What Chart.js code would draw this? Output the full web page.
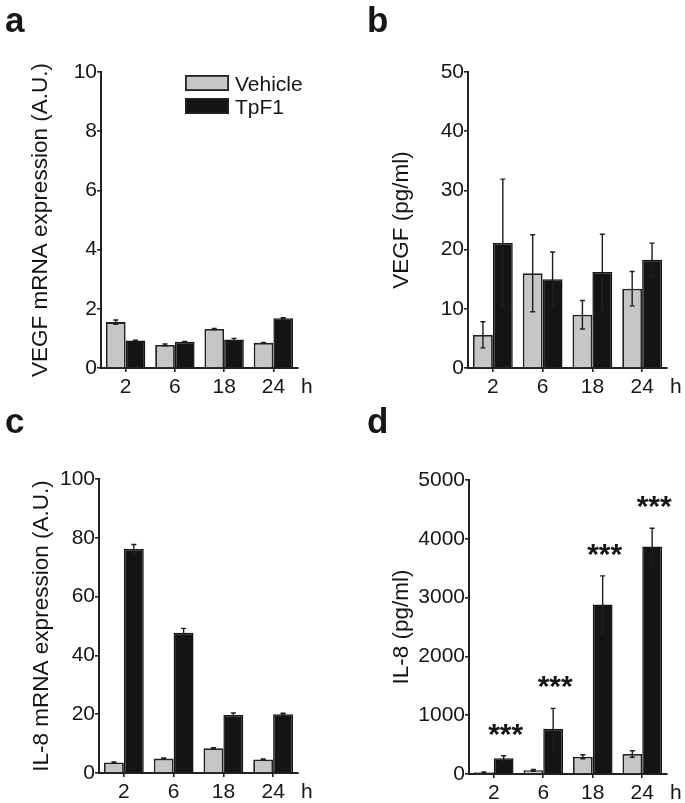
<!DOCTYPE html>
<html>
<head>
<meta charset="utf-8">
<script src="https://cdn.jsdelivr.net/npm/chart.js@4.4.1/dist/chart.umd.min.js"></script>
<style>
  html, body { margin: 0; padding: 0; background: #fff; }
  #wrap { position: relative; width: 685px; height: 803px; }
  canvas { position: absolute; }
</style>
</head>
<body>
<div id="wrap">
  <canvas id="panelA" width="342" height="400" style="left:0;top:0"></canvas>
  <canvas id="panelB" width="343" height="400" style="left:342px;top:0"></canvas>
  <canvas id="panelC" width="342" height="403" style="left:0;top:400px"></canvas>
  <canvas id="panelD" width="343" height="403" style="left:342px;top:400px"></canvas>
</div>
<script>
// time points (h)
const hours = ["2", "6", "18", "24"];
const seriesNames = ["Vehicle", "TpF1"];

// a - VEGF mRNA
const vegfMrnaVehicle = [1.55, 0.78, 1.32, 0.85];
const vegfMrnaVehicleErr = [0.07, 0.03, 0.02, 0.01];
const vegfMrnaTpf1 = [0.93, 0.89, 0.96, 1.68];
const vegfMrnaTpf1Err = [0.01, 0.01, 0.04, 0.02];

// b - VEGF protein (pg/ml)
const vegfVehicle = [5.6, 16.0, 9.0, 13.4];
const vegfVehicleErr = [2.2, 6.5, 2.4, 2.9];
const vegfTpf1 = [21.1, 15.0, 16.2, 18.3];
const vegfTpf1Err = [10.8, 4.6, 6.4, 2.8];

// c - IL-8 mRNA
const il8MrnaVehicle = [3.6, 4.9, 8.4, 4.6];
const il8MrnaVehicleErr = [0.2, 0.2, 0.2, 0.2];
const il8MrnaTpf1 = [76.2, 47.7, 19.7, 20.0];
const il8MrnaTpf1Err = [1.5, 1.5, 0.7, 0.3];

// d - IL-8 protein (pg/ml)
const il8Vehicle = [28, 62, 294, 340];
const il8VehicleErr = [8, 15, 34, 56];
const il8Tpf1 = [266, 770, 2882, 3868];
const il8Tpf1Err = [45, 346, 488, 311];
const il8Stars = ["***", "***", "***", "***"];

// y axis ranges
const yMaxA = 10, yStepA = 2;
const yMaxB = 50, yStepB = 10;
const yMaxC = 100, yStepC = 20;
const yMaxD = 5000, yStepD = 1000;

const FONT = '"Liberation Sans", Arial, Helvetica, sans-serif';
const INK = "#161616";
const GREY = "#c6c6c6";
const BLACK = "#141414";

Chart.defaults.font.family = FONT;
Chart.defaults.color = INK;

// error bars, drawn from the dataset's errors array
const errorBars = {
  id: "errorBars",
  afterDatasetsDraw(chart) {
    const ctx = chart.ctx;
    const y = chart.scales.y;
    ctx.save();
    ctx.strokeStyle = "#1e1e1e";
    ctx.lineWidth = 1.4;
    chart.data.datasets.forEach((ds, i) => {
      const meta = chart.getDatasetMeta(i);
      meta.data.forEach((bar, j) => {
        const v = ds.data[j], e = ds.errors[j];
        const top = y.getPixelForValue(v + e);
        const bot = y.getPixelForValue(Math.max(0, v - e));
        ctx.beginPath();
        ctx.moveTo(bar.x, top);
        ctx.lineTo(bar.x, bot);
        ctx.moveTo(bar.x - 2.5, top);
        ctx.lineTo(bar.x + 2.5, top);
        ctx.moveTo(bar.x - 2.5, bot);
        ctx.lineTo(bar.x + 2.5, bot);
        ctx.stroke();
      });
    });
    ctx.restore();
  }
};

// panel letter, "h" unit, legend and significance stars
const decorations = {
  id: "decorations",
  afterDraw(chart, args, opts) {
    const ctx = chart.ctx;
    const area = chart.chartArea;
    ctx.save();
    ctx.fillStyle = INK;
    ctx.textBaseline = "alphabetic";
    ctx.textAlign = "left";
    ctx.font = "bold 35px " + FONT;
    ctx.fillText(opts.letter, opts.letterX, opts.letterY);

    ctx.font = "21px " + FONT;
    ctx.textBaseline = "middle";
    ctx.fillText("h", area.right + 3, area.bottom + 19);

    if (opts.legend) {
      chart.data.datasets.forEach((ds, i) => {
        const bx = 185, by = 75 + i * 23;
        ctx.fillStyle = ds.backgroundColor;
        ctx.fillRect(bx, by, 44, 16);
        ctx.strokeStyle = "#222";
        ctx.lineWidth = 1.8;
        ctx.strokeRect(bx + 0.9, by + 0.9, 42.2, 14.2);
        ctx.fillStyle = INK;
        ctx.textBaseline = "alphabetic";
        ctx.fillText(ds.label, 235, by + 16);
      });
    }

    if (opts.stars) {
      const y = chart.scales.y;
      const ds = chart.data.datasets[1];
      const meta = chart.getDatasetMeta(1);
      ctx.font = "bold 30px " + FONT;
      ctx.textAlign = "center";
      ctx.textBaseline = "alphabetic";
      meta.data.forEach((bar, j) => {
        const top = y.getPixelForValue(ds.data[j] + ds.errors[j]);
        ctx.fillText(opts.stars[j], bar.x + 2, top - 12);
      });
    }
    ctx.restore();
  }
};

function makePanel(id, cfg) {
  new Chart(document.getElementById(id), {
    type: "bar",
    data: {
      labels: hours,
      datasets: [
        {
          label: seriesNames[0],
          data: cfg.vehicle,
          errors: cfg.vehicleErr,
          backgroundColor: GREY,
          borderColor: "#222",
          borderWidth: 1.8,
          categoryPercentage: 0.8,
          barPercentage: 1.0
        },
        {
          label: seriesNames[1],
          data: cfg.tpf1,
          errors: cfg.tpf1Err,
          backgroundColor: BLACK,
          borderColor: BLACK,
          borderWidth: 1.5,
          categoryPercentage: 0.8,
          barPercentage: 1.0
        }
      ]
    },
    options: {
      responsive: false,
      animation: false,
      devicePixelRatio: 1,
      layout: { padding: { left: 0, top: cfg.top, right: cfg.right, bottom: 0 } },
      plugins: {
        legend: { display: false },
        tooltip: { enabled: false },
        decorations: {
          letter: cfg.letter,
          letterX: cfg.letterX,
          letterY: cfg.letterY,
          legend: cfg.legend || false,
          stars: cfg.stars || null
        }
      },
      scales: {
        x: {
          grid: {
            drawOnChartArea: false,
            drawTicks: true,
            tickLength: 4,
            offset: false,
            color: "#222",
            lineWidth: 1.6
          },
          border: { display: true, color: "#222", width: 2 },
          ticks: { padding: 3, maxRotation: 0, font: { size: 21 }, color: INK },
          afterFit: (s) => { s.height = cfg.xHeight; }
        },
        y: {
          min: 0,
          max: cfg.yMax,
          ticks: {
            stepSize: cfg.yStep,
            padding: 0,
            font: { size: 21 },
            color: INK,
            callback: (v) => String(v)
          },
          grid: {
            drawOnChartArea: false,
            drawTicks: true,
            tickLength: 4,
            color: "#222",
            lineWidth: 1.6
          },
          border: { display: true, color: "#222", width: 2 },
          title: {
            display: true,
            text: cfg.title,
            font: { size: 22.5 },
            color: INK,
            padding: { top: cfg.titleOffset, bottom: 0 }
          },
          afterFit: (s) => { s.width = cfg.yWidth; }
        }
      }
    },
    plugins: [errorBars, decorations]
  });
}

makePanel("panelA", {
  letter: "a", letterX: 5, letterY: 32, legend: true,
  vehicle: vegfMrnaVehicle, vehicleErr: vegfMrnaVehicleErr,
  tpf1: vegfMrnaTpf1, tpf1Err: vegfMrnaTpf1Err,
  yMax: yMaxA, yStep: yStepA, title: "VEGF mRNA expression (A.U.)",
  yWidth: 101, top: 72, right: 44, xHeight: 32, titleOffset: 27
});

makePanel("panelB", {
  letter: "b", letterX: 25, letterY: 32,
  vehicle: vegfVehicle, vehicleErr: vegfVehicleErr,
  tpf1: vegfTpf1, tpf1Err: vegfTpf1Err,
  yMax: yMaxB, yStep: yStepB, title: "VEGF (pg/ml)",
  yWidth: 126, top: 72, right: 18, xHeight: 32, titleOffset: 46
});

makePanel("panelC", {
  letter: "c", letterX: 5, letterY: 33,
  vehicle: il8MrnaVehicle, vehicleErr: il8MrnaVehicleErr,
  tpf1: il8MrnaTpf1, tpf1Err: il8MrnaTpf1Err,
  yMax: yMaxC, yStep: yStepC, title: "IL-8 mRNA expression (A.U.)",
  yWidth: 99, top: 79, right: 44, xHeight: 30, titleOffset: 28
});

makePanel("panelD", {
  letter: "d", letterX: 25, letterY: 33, stars: il8Stars,
  vehicle: il8Vehicle, vehicleErr: il8VehicleErr,
  tpf1: il8Tpf1, tpf1Err: il8Tpf1Err,
  yMax: yMaxD, yStep: yStepD, title: "IL-8 (pg/ml)",
  yWidth: 127, top: 80, right: 18, xHeight: 29, titleOffset: 46
});
</script>
</body>
</html>
